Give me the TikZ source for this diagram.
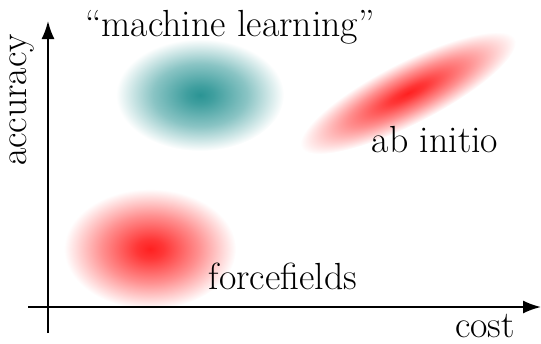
\documentclass[tikz,border=0pt]{standalone}
\usepackage{tikz}
\usetikzlibrary{arrows.meta, positioning}
\definecolor{tealA}{HTML}{2A9494}
\definecolor{redA}{HTML}{FF2020}
\pgfdeclareradialshading{redglow}{\pgfpoint{0bp}{0bp}}{%
  color(0bp)=(redA); color(4bp)=(redA!90); color(14bp)=(redA!50); color(25bp)=(white); color(50bp)=(white)}
\pgfdeclareradialshading{tealglow}{\pgfpoint{0bp}{0bp}}{%
  color(0bp)=(tealA); color(4bp)=(tealA!90); color(14bp)=(tealA!55); color(25bp)=(white); color(50bp)=(white)}
\tikzset{
  blob/.style={shading=#1},
  axis/.style={-{Latex[length=0.36cm, width=0.26cm]}, line width=1.1pt},
  lbl/.style={font=\fontsize{21.5}{25}\selectfont, inner sep=0pt}
}

\begin{document}
\begin{tikzpicture}[x=0.02cm, y=0.02cm]
  \useasboundingbox (0,0) rectangle (541,343);

  % glowing regions
  \path[blob=tealglow] (200,248) ellipse [x radius=84, y radius=56];
  \path[blob=redglow] (150,94) ellipse [x radius=86, y radius=60];
  \begin{scope}[transform canvas={shift={(408,250)}, rotate=27}]
    \path[blob=redglow] (0,0) ellipse [x radius=120, y radius=31];
  \end{scope}

  % axes
  \coordinate (xstart) at (28,36);
  \coordinate (xend) at (541,36);
  \coordinate (ystart) at (48,10);
  \coordinate (yend) at (48,322);
  \draw[axis] (xstart) -- (xend);
  \draw[axis] (ystart) -- (yend);

  \node[lbl] (cost) at (485,17) {cost};
  \node[lbl, rotate=90] (accuracy) at (22,243) {accuracy};
  \node[lbl] (ml) at (230,316) {``machine learning''};
  \node[lbl] (abinitio) at (435,203) {ab initio};
  \node[lbl] (ff) at (283,67) {forcefields};
\end{tikzpicture}
\end{document}
